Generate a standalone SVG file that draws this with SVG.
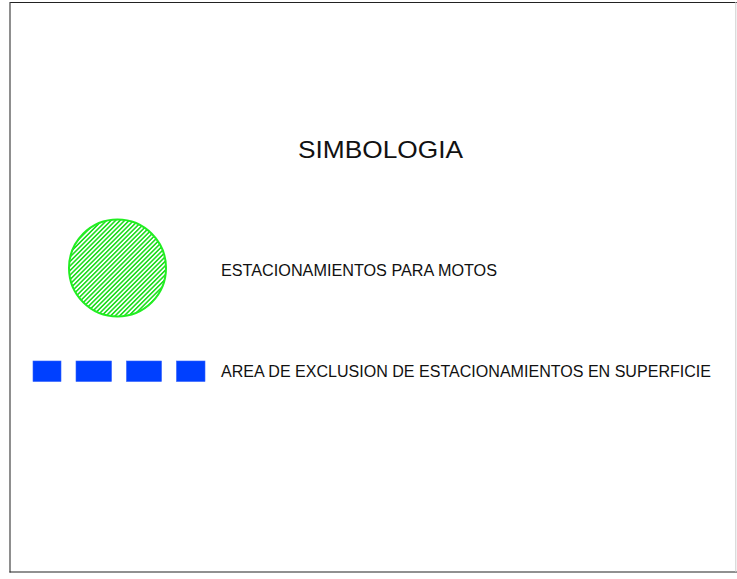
<svg xmlns="http://www.w3.org/2000/svg" width="737" height="579" viewBox="0 0 737 579">
<defs>
<style>
.t{font-family:"Liberation Sans",Arial,sans-serif;fill:#111}
.sq{fill:#0040ff;stroke:#3060ff;stroke-width:0.6}
</style>
<pattern id="hatch" patternUnits="userSpaceOnUse" width="3.2" height="3.2" patternTransform="rotate(45)">
<rect width="3.2" height="3.2" fill="#fff"/>
<rect x="0" y="0" width="1.6" height="3.2" fill="#22dd22"/>
</pattern>
</defs>
<rect width="737" height="579" fill="#fff"/>
<g id="frame">
<line x1="10" y1="2.5" x2="737" y2="2.5" stroke="#222" stroke-width="1.2"/>
<line x1="10" y1="2" x2="10" y2="572.5" stroke="#444" stroke-width="1.2"/>
<line x1="9.5" y1="572" x2="737" y2="572" stroke="#222" stroke-width="1.2"/>
<line x1="735.8" y1="2" x2="735.8" y2="572" stroke="#ccc" stroke-width="1"/>
</g>
<g id="title"><text class="t" x="298" y="157.5" font-size="24" textLength="165" lengthAdjust="spacingAndGlyphs">SIMBOLOGIA</text></g>
<g id="motos">
<circle cx="117.5" cy="268" r="48.5" fill="url(#hatch)" stroke="#22ee22" stroke-width="2"/>
<text class="t" x="221" y="276" font-size="16" textLength="276" lengthAdjust="spacingAndGlyphs">ESTACIONAMIENTOS PARA MOTOS</text>
</g>
<g id="exclusion">
<rect class="sq" x="33" y="361" width="28" height="20.5"/>
<rect class="sq" x="76" y="361" width="35.5" height="20.5"/>
<rect class="sq" x="126.5" y="361" width="35" height="20.5"/>
<rect class="sq" x="176.5" y="361" width="28.5" height="20.5"/>
<text class="t" x="221" y="377.3" font-size="15.8" textLength="490" lengthAdjust="spacingAndGlyphs">AREA DE EXCLUSION DE ESTACIONAMIENTOS EN SUPERFICIE</text>
</g>
<g id="connectors"/>
</svg>
